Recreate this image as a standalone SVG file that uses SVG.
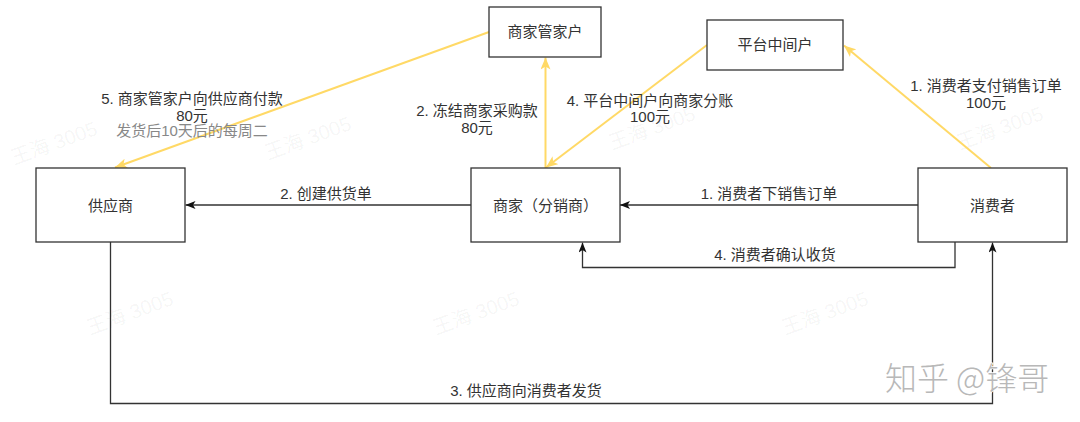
<svg xmlns="http://www.w3.org/2000/svg" width="1080" height="422" viewBox="0 0 1080 422">
<defs>
<style>
.box{fill:#fff;stroke:#333;stroke-width:1.3}
.lbl{font-family:"Liberation Sans","Noto Sans CJK SC",sans-serif;font-size:15px;fill:#333;text-anchor:middle}
.sub{fill:#888}
.blk{fill:none;stroke:#333;stroke-width:1.3}
.yel{fill:none;stroke:#FFD966;stroke-width:2}
.wm{font-family:"Liberation Sans","Noto Sans CJK SC",sans-serif;font-size:20px;fill:#000;fill-opacity:0.05}
</style>
<marker id="ab" viewBox="0 0 10 8" refX="10" refY="4" markerWidth="10" markerHeight="8" markerUnits="userSpaceOnUse" orient="auto">
<path d="M0,0 L10,4 L0,8 L2.5,4 Z" fill="#111"/>
</marker>
<marker id="ay" viewBox="0 0 12 10" refX="12" refY="5" markerWidth="12" markerHeight="10" markerUnits="userSpaceOnUse" orient="auto">
<path d="M0,0 L12,5 L0,10 L3,5 Z" fill="#FFD966"/>
</marker>
</defs>
<rect width="1080" height="422" fill="#fff"/>
<g id="watermarks">
<text class="wm" transform="translate(14,165) rotate(-20)">王海 3005</text>
<text class="wm" transform="translate(268,160) rotate(-20)">王海 3005</text>
<text class="wm" transform="translate(612,150) rotate(-20)">王海 3005</text>
<text class="wm" transform="translate(960,150) rotate(-20)">王海 3005</text>
<text class="wm" transform="translate(90,335) rotate(-20)">王海 3005</text>
<text class="wm" transform="translate(436,335) rotate(-20)">王海 3005</text>
<text class="wm" transform="translate(785,335) rotate(-20)">王海 3005</text>
</g>
<g id="connectors">
<path class="blk" d="M918,205 L620,205" marker-end="url(#ab)"/>
<path class="blk" d="M471,205 L185.5,205" marker-end="url(#ab)"/>
<path class="blk" d="M955,242 L955,267.5 L582.5,267.5 L582.5,242.5" marker-end="url(#ab)"/>
<path class="blk" d="M110.5,242 L110.5,403.5 L992.5,403.5 L992.5,242.5" marker-end="url(#ab)"/>
<path class="yel" d="M991,168 L844,45.5" marker-end="url(#ay)"/>
<path class="yel" d="M707,45 L546,167.5" marker-end="url(#ay)"/>
<path class="yel" d="M545.5,168 L545.5,57.5" marker-end="url(#ay)"/>
<path class="yel" d="M489,32 L115,167.5" marker-end="url(#ay)"/>
<text class="lbl" x="769" y="198.5">1. 消费者下销售订单</text>
<text class="lbl" x="326" y="198.5">2. 创建供货单</text>
<text class="lbl" x="775" y="260">4. 消费者确认收货</text>
<text class="lbl" x="526" y="396">3. 供应商向消费者发货</text>
<text class="lbl" x="986" y="90.5">1. 消费者支付销售订单</text>
<text class="lbl" x="986" y="108">100元</text>
<text class="lbl" x="650" y="105.5">4. 平台中间户向商家分账</text>
<text class="lbl" x="650" y="122">100元</text>
<text class="lbl" x="477" y="116">2. 冻结商家采购款</text>
<text class="lbl" x="477" y="133">80元</text>
<text class="lbl" x="192" y="104">5. 商家管家户向供应商付款</text>
<text class="lbl" x="192" y="121">80元</text>
<text class="lbl sub" x="192" y="136">发货后10天后的每周二</text>
</g>
<g id="node-gongyingshang">
<rect class="box" x="36" y="168" width="149" height="74"/>
<text class="lbl" x="110.5" y="211">供应商</text>
</g>
<g id="node-shangjia">
<rect class="box" x="471" y="168" width="149" height="74"/>
<text class="lbl" x="545.5" y="211">商家（分销商）</text>
</g>
<g id="node-xiaofeizhe">
<rect class="box" x="918" y="168" width="149" height="74"/>
<text class="lbl" x="992.5" y="211">消费者</text>
</g>
<g id="node-guanjiahu">
<rect class="box" x="489" y="7" width="112" height="50"/>
<text class="lbl" x="545" y="37">商家管家户</text>
</g>
<g id="node-zhongjianhu">
<rect class="box" x="707" y="20" width="136" height="50"/>
<text class="lbl" x="775" y="50">平台中间户</text>
</g>
<g id="watermark-zhihu">
<text x="885" y="390" style="font-family:'Noto Sans CJK SC',sans-serif;font-size:32px;font-weight:300;fill:#b8b8b8;stroke:#fff;stroke-width:1.5;paint-order:stroke">知乎 @锋哥</text>
</g>
</svg>
